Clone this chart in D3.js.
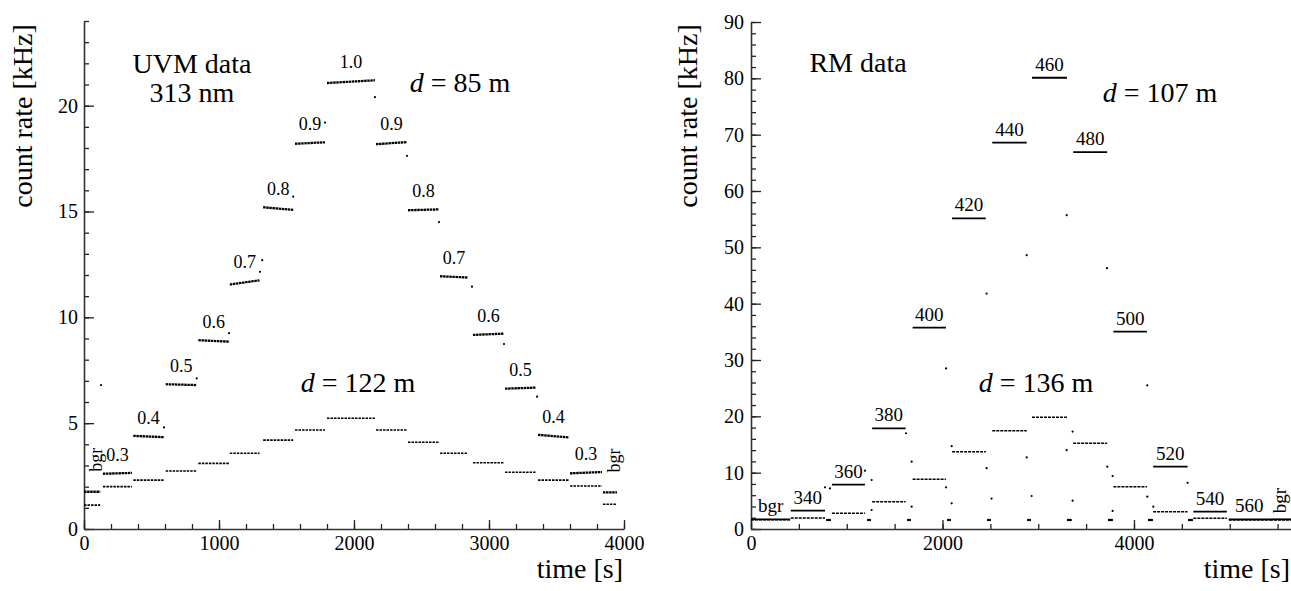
<!DOCTYPE html>
<html><head><meta charset="utf-8">
<script src="https://cdn.jsdelivr.net/npm/d3@7"></script>
<style>
body{margin:0;background:#fff}
svg{display:block}
text{font-family:"Liberation Serif","Times New Roman",serif;fill:#000}
</style>
</head><body>
<svg id="c" width="1291" height="591"></svg>
<script>
// ---------- LEFT PANEL: UVM data, 313 nm ----------
const uvmLabels = ["bgr","0.3","0.4","0.5","0.6","0.7","0.8","0.9","1.0","0.9","0.8","0.7","0.6","0.5","0.4","0.3","bgr"];
const uvmStart  = [0,140,365,605,847,1080,1327,1563,1800,2163,2400,2637,2881,3119,3363,3600,3844];
const uvmEnd    = [120,355,590,835,1077,1300,1550,1785,2155,2393,2630,2845,3111,3348,3593,3837,3948];
const uvm85Start= [1.76,2.61,4.40,6.84,8.92,11.55,15.20,18.20,21.07,18.18,15.06,11.94,9.17,6.63,4.45,2.63,1.73];
const uvm85End  = [1.76,2.65,4.34,6.80,8.85,11.75,15.08,18.27,21.20,18.28,15.10,11.88,9.23,6.68,4.33,2.69,1.73];
const uvm122    = [1.13,2.00,2.31,2.74,3.10,3.58,4.20,4.68,5.23,4.68,4.10,3.58,3.13,2.68,2.31,2.03,1.17];
const uvmSpikeT = [126,593,835,1074,1304,1320,1550,1785,2155,2393,2630,2874,3111,3356];
const uvmSpikeV = [6.8,4.8,7.12,9.25,12.15,12.7,15.7,19.2,20.4,17.63,14.5,11.45,8.74,6.25];
const uvmYMajor = [0,5,10,15,20];
const uvmXMajor = [0,1000,2000,3000,4000];

// ---------- RIGHT PANEL: RM data ----------
const rmLabels = ["bgr","340","360","380","400","420","440","460","480","500","520","540","560","bgr"];
const rmStart  = [0,415,845,1265,1688,2100,2520,2935,3365,3785,4200,4620,4990,5420];
const rmEnd    = [410,773,1190,1615,2036,2452,2880,3300,3720,4135,4560,4970,5420,5640];
const rm107    = [1.72,3.25,7.87,17.87,35.74,55.15,68.6,80.1,66.9,35.05,11.06,3.07,1.72,1.72];
const rm136    = [1.65,1.95,2.78,4.85,8.82,13.73,17.46,19.83,15.2,7.5,3.07,1.9,1.6,1.6];
const rmGapStart = [785,1212,1630,2047,2465,2883,3300,3728,4146,4564];
const rmGapEnd   = [835,1253,1670,2088,2506,2924,3350,3780,4198,4616];
const rmGapLevel = [1.6,1.6,1.6,1.6,1.6,1.6,1.6,1.6,1.6,1.6];
const rmSpikeT = [773,825,1190,1260,1260,1619,1678,1678,2037,2037,2096,2096,2461,2461,2513,2879,2879,2931,3297,3297,3359,3359,3718,3721,3777,3777,4139,4139,4202,4560];
const rmSpikeV = [7.4,7.2,10.35,8.7,3.37,17.0,11.95,3.96,28.5,7.4,14.7,4.56,41.8,10.8,5.4,48.6,12.7,5.86,55.7,14.0,17.3,5.03,46.3,11.06,9.4,3.2,25.5,5.74,3.96,8.2];
const rmYMajor = [0,10,20,30,40,50,60,70,80,90];
const rmXMajor = [0,2000,4000];

const svg = d3.select("#c");

function drawPanel(o){
  const g = svg.append("g");
  const x = d3.scaleLinear().domain(o.xDomain).range(o.xRange);
  const y = d3.scaleLinear().domain(o.yDomain).range(o.yRange);

  // minor ticks
  g.append("g").attr("transform",`translate(${o.xRange[0]},0)`)
    .call(d3.axisLeft(y).tickValues(o.yMinor).tickSize(-5).tickSizeOuter(0).tickFormat(""))
    .call(a=>a.select(".domain").remove());
  g.append("g").attr("transform",`translate(0,${o.yRange[0]})`)
    .call(d3.axisBottom(x).tickValues(o.xMinor).tickSize(-5).tickSizeOuter(0).tickFormat(""))
    .call(a=>a.select(".domain").remove());
  // major
  const ya = g.append("g").attr("transform",`translate(${o.xRange[0]},0)`)
    .call(d3.axisLeft(y).tickValues(o.yMajor).tickSize(-10).tickSizeOuter(0).tickPadding(o.yPad).tickFormat(d3.format("d")));
  const xa = g.append("g").attr("transform",`translate(0,${o.yRange[0]})`)
    .call(d3.axisBottom(x).tickValues(o.xMajor).tickSize(-9).tickSizeOuter(0).tickPadding(7).tickFormat(d3.format("d")));
  [ya,xa].forEach(a=>{
    a.selectAll("text").style("font-family",'"Liberation Serif",serif').style("font-size","20px").attr("fill","#000");
    a.select(".domain").attr("stroke","#333").attr("stroke-width",1.6);
  });
  g.selectAll(".tick line").attr("stroke","#222").attr("stroke-width",1.3);

  // step traces
  const segs = g.append("g");
  o.series.forEach(s=>{
    segs.selectAll(null).data(o.start.map((t,i)=>i)).enter().append("line")
      .attr("x1",i=>x(o.start[i])).attr("x2",i=>x(o.end[i]))
      .attr("y1",i=>y(s.v0[i])).attr("y2",i=>y(s.v1[i]))
      .attr("stroke","#000").attr("stroke-width",s.sw)
      .attr("stroke-dasharray",s.dash);
  });
  if(o.gapStart){
    segs.selectAll(null).data(o.gapStart.map((t,i)=>i)).enter().append("line")
      .attr("x1",i=>x(o.gapStart[i])).attr("x2",i=>x(o.gapEnd[i]))
      .attr("y1",i=>y(o.gapLevel[i])).attr("y2",i=>y(o.gapLevel[i]))
      .attr("stroke","#000").attr("stroke-width",2.2);
  }
  segs.selectAll(null).data(o.spikeT.map((t,i)=>i)).enter().append("circle")
    .attr("cx",i=>x(o.spikeT[i])).attr("cy",i=>y(o.spikeV[i])).attr("r",1.1).attr("fill","#000");

  // step labels
  o.labels.forEach((lab,i)=>{
    const cx = (x(o.start[i])+x(o.end[i]))/2;
    const top = y(Math.max(o.series[0].v0[i],o.series[0].v1[i]));
    const w = x(o.end[i])-x(o.start[i]);
    if(w<25){
      g.append("text").attr("transform",`translate(${cx+o.rotDx},${top-o.rotDy}) rotate(-90)`)
        .attr("text-anchor","start").style("font-size",o.labSize+"px").text(lab);
    } else {
      g.append("text").attr("x",cx).attr("y",top-o.labOff)
        .attr("text-anchor","middle").style("font-size",o.labSize+"px").text(lab);
    }
  });

  // axis titles
  g.append("text").attr("transform",`translate(${o.yTitleX},${o.yTitleY}) rotate(-90)`)
    .attr("text-anchor","middle").style("font-size","28px").text("count rate [kHz]");
  g.append("text").attr("x",o.xTitleX).attr("y",578).attr("text-anchor","end")
    .style("font-size","28px").text("time [s]");
  return g;
}

const rng = (a,b,s)=>d3.range(a,b+s/2,s);

const gL = drawPanel({
  xDomain:[0,4000], xRange:[84,624], yDomain:[0,24], yRange:[529,21],
  yMajor:uvmYMajor, xMajor:uvmXMajor, yMinor:rng(0,24,1), xMinor:rng(0,4000,200), yPad:6,
  start:uvmStart, end:uvmEnd,
  series:[{v0:uvm85Start,v1:uvm85End,sw:2.3,dash:"2.5,0.6"},{v0:uvm122,v1:uvm122,sw:1.6,dash:"2.5,1"}],
  spikeT:uvmSpikeT, spikeV:uvmSpikeV,
  labels:uvmLabels, labSize:18, labOff:12, rotDx:10, rotDy:20,
  yTitleX:32, yTitleY:116, xTitleX:623
});
const gR = drawPanel({
  xDomain:[0,5640], xRange:[751,1291], yDomain:[0,90], yRange:[529,22],
  yMajor:rmYMajor, xMajor:rmXMajor, yMinor:rng(0,90,2), xMinor:rng(0,5500,500), yPad:7,
  start:rmStart, end:rmEnd,
  series:[{v0:rm107,v1:rm107,sw:1.8,dash:null},{v0:rm136,v1:rm136,sw:1.5,dash:"3,1"}],
  gapStart:rmGapStart, gapEnd:rmGapEnd, gapLevel:rmGapLevel,
  spikeT:rmSpikeT, spikeV:rmSpikeV,
  labels:rmLabels, labSize:19, labOff:7, rotDx:6, rotDy:6,
  yTitleX:697, yTitleY:116, xTitleX:1290
});

// annotations
function dLabel(g,xc,yb,txt){
  const t=g.append("text").attr("x",xc).attr("y",yb).attr("text-anchor","middle").style("font-size","28px");
  t.append("tspan").style("font-style","italic").text("d");
  t.append("tspan").text(" = "+txt);
}
gL.append("text").attr("x",192).attr("y",73).attr("text-anchor","middle").style("font-size","28px").text("UVM data");
gL.append("text").attr("x",192).attr("y",102).attr("text-anchor","middle").style("font-size","28px").text("313 nm");
dLabel(gL,460,92,"85 m");
dLabel(gL,358,392,"122 m");
gR.append("text").attr("x",858).attr("y",72).attr("text-anchor","middle").style("font-size","28px").text("RM data");
dLabel(gR,1160,102,"107 m");
dLabel(gR,1036,392,"136 m");
</script>
</body></html>
